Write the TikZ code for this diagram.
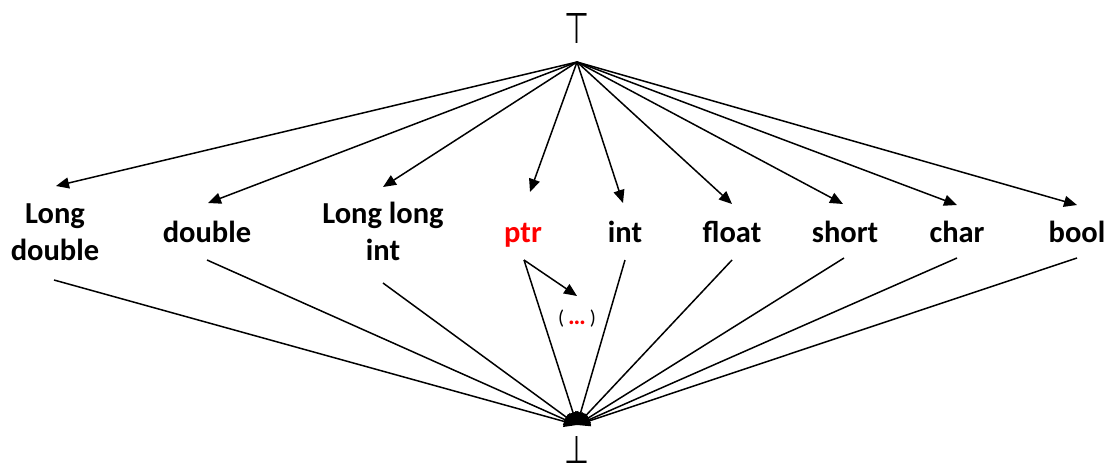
\documentclass[tikz,border=0pt]{standalone}
\usepackage{fontspec}
\setmainfont{Carlito}
\newfontfamily\symfont{DejaVu Sans}
\usetikzlibrary{arrows.meta}

\tikzset{
  typename/.style={font=\fontsize{30.5}{37}\selectfont\bfseries, inner sep=0pt, align=center, anchor=base},
  link/.style={line width=1.5pt, -{Triangle[length=13pt,width=11pt]}},
  bound/.style={inner sep=0pt},
}

\begin{document}
\begin{tikzpicture}[x=1pt, y=-1pt]
  \path[use as bounding box] (0,0) rectangle (1107,467);

  % top and bottom of the lattice
  \node[bound] (topel) at (577,28) {\resizebox{25pt}{30pt}{\symfont ⊤}};
  \node[bound, anchor=south] (botel) at (577,464) {\resizebox{25pt}{27pt}{\symfont ⊥}};
  \coordinate (fan) at (577,62);
  \coordinate (sink) at (577,425);

  % the types
  \node[typename] (ldouble) at (55,260) {Long\\double};
  \node[typename] (double)  at (207,242) {double};
  \node[typename] (llint)   at (383,260) {Long long\\int};
  \node[typename, text=red] (ptr) at (523,242) {ptr};
  \node[typename] (int)     at (625,242) {int};
  \node[typename] (float)   at (732,242) {float};
  \node[typename] (short)   at (845,242) {short};
  \node[typename] (char)    at (957,242) {char};
  \node[typename] (bool)    at (1077,242) {bool};

  \node[inner sep=0pt, font=\fontsize{20}{22}\selectfont] (etc) at (577,319)
    {(\hspace{4pt}\textcolor{red}{\fontsize{25}{25}\selectfont\bfseries …}\hspace{4pt})};

  % arrow tips above each type
  \coordinate (ldouble-in) at (56,186);
  \coordinate (double-in)  at (208,203);
  \coordinate (llint-in)   at (383,187);
  \coordinate (ptr-in)     at (530,192);
  \coordinate (int-in)     at (623,203);
  \coordinate (float-in)   at (732,204);
  \coordinate (short-in)   at (843,204);
  \coordinate (char-in)    at (957,205);
  \coordinate (bool-in)    at (1077,205);

  % line starts below each type
  \coordinate (ldouble-out) at (54,280);
  \coordinate (double-out)  at (207,260);
  \coordinate (llint-out)   at (383,283);
  \coordinate (ptr-out)     at (524,260);
  \coordinate (int-out)     at (625,260);
  \coordinate (float-out)   at (732,260);
  \coordinate (short-out)   at (844,258);
  \coordinate (char-out)    at (957,258);
  \coordinate (bool-out)    at (1077,258);
  \coordinate (etc-in)      at (577,296);

  \foreach \t in {ldouble,double,llint,ptr,int,float,short,char,bool}{
    \draw[link] (fan) -- (\t-in);
    \draw[link] (\t-out) -- (sink);
  }
  \draw[link] (ptr-out) -- (etc-in);
\end{tikzpicture}
\end{document}
